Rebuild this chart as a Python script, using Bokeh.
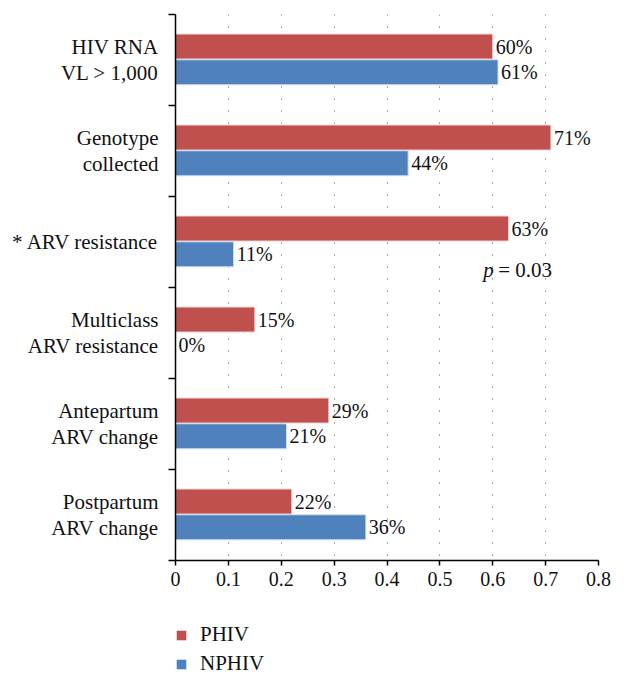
from bokeh.plotting import figure
from bokeh.layouts import column
from bokeh.models import (ColumnDataSource, Range1d, FixedTicker, Legend, LegendItem, Label)
from bokeh.core.properties import value
from bokeh.embed import file_html
from bokeh.resources import INLINE

categories = ["HIV RNA\nVL > 1,000", "Genotype\ncollected", "* ARV resistance",
              "Multiclass\nARV resistance", "Antepartum\nARV change", "Postpartum\nARV change"]
phiv = [0.60, 0.71, 0.63, 0.15, 0.29, 0.22]
nphiv = [0.61, 0.44, 0.11, 0.00, 0.21, 0.36]
x_ticks = [0, 0.1, 0.2, 0.3, 0.4, 0.5, 0.6, 0.7, 0.8]
x_tick_labels = ["0", "0.1", "0.2", "0.3", "0.4", "0.5", "0.6", "0.7", "0.8"]
series_names = ["PHIV", "NPHIV"]

RED = "#C0504D"
BLUE = "#4F81BD"
FONT = "Liberation Serif"
FS = "20px"
FS_CAT = "21px"

n = len(categories)
centers = [i + 0.5 for i in range(n)]

p = figure(frame_width=423, frame_height=546, output_backend="svg", toolbar_location=None,
           x_range=Range1d(0, 0.8), y_range=Range1d(n, 0),
           min_border_left=175, min_border_right=26, min_border_top=14, min_border_bottom=40)
p.outline_line_color = None
p.background_fill_color = "white"

src_r = ColumnDataSource(dict(y=[c - 0.148 for c in centers], v=phiv,
                              t=[f"{round(v*100)}%" for v in phiv]))
src_b = ColumnDataSource(dict(y=[c + 0.135 for c in centers], v=nphiv,
                              t=[f"{round(v*100)}%" for v in nphiv]))

p.hbar(y="y", right="v", left=0, height=0.275, source=src_r, fill_color=RED,
       line_color="#f2d6d5", line_width=1)
p.hbar(y="y", right="v", left=0, height=0.275, source=src_b, fill_color=BLUE,
       line_color="#d3e0f0", line_width=1)

for s in (src_r, src_b):
    p.text(x="v", y="y", text="t", source=s, x_offset=3, text_baseline="middle",
           text_align="left", text_font=value(FONT), text_font_size=FS, text_color="#111")

# x axis
p.xaxis.ticker = FixedTicker(ticks=x_ticks)
p.xaxis.major_label_overrides = {t: l for t, l in zip(x_ticks, x_tick_labels)}
p.xaxis.major_label_text_font = FONT
p.xaxis.major_label_text_font_size = FS
p.xaxis.major_label_text_color = "#111"
p.xaxis.major_tick_in = 0
p.xaxis.major_tick_out = 5
p.xaxis.minor_tick_line_color = None
p.xaxis.axis_line_width = 1.5
p.xaxis.major_tick_line_width = 1.5
p.xaxis.major_label_standoff = 6

# y axis
p.yaxis.ticker = FixedTicker(ticks=centers, minor_ticks=list(range(n + 1)))
p.yaxis.major_label_overrides = {c: l for c, l in zip(centers, categories)}
p.yaxis.major_label_text_font = FONT
p.yaxis.major_label_text_font_size = FS_CAT
p.yaxis.major_label_text_color = "#111"
p.yaxis.major_label_text_line_height = 1.05
p.yaxis.major_tick_in = 0
p.yaxis.major_tick_out = 0
p.yaxis.minor_tick_in = 0
p.yaxis.minor_tick_out = 7
p.yaxis.minor_tick_line_width = 1.5
p.yaxis.axis_line_width = 1.5
p.yaxis.major_label_standoff = 10

p.ygrid.grid_line_color = None
p.xgrid.ticker = FixedTicker(ticks=x_ticks[1:])
p.xgrid.grid_line_color = "#555"
p.xgrid.grid_line_dash = "1 11"
p.xgrid.grid_line_width = 1

p.add_layout(Label(x=0.582, y=2.81, text="p", text_font=FONT, text_font_style="italic",
                   text_font_size=FS_CAT, text_baseline="middle", text_color="#111"))
p.add_layout(Label(x=0.582, y=2.81, x_offset=15, text="= 0.03", text_font=FONT,
                   text_font_size=FS_CAT, text_baseline="middle", text_color="#111"))

# legend in a separate strip below the chart (its bars lie outside its visible range)
lg = figure(frame_width=423, frame_height=52, output_backend="svg", toolbar_location=None,
            x_range=Range1d(0, 0.8), y_range=Range1d(100, 101),
            min_border_left=175, min_border_right=26, min_border_top=22, min_border_bottom=0)
lg.axis.visible = False
lg.grid.visible = False
lg.outline_line_color = None
lr1 = lg.hbar(y="y", right="v", left=0, height=0.275, source=src_r, fill_color=RED, line_color=None)
lr2 = lg.hbar(y="y", right="v", left=0, height=0.275, source=src_b, fill_color=BLUE, line_color=None)

legend = Legend(items=[LegendItem(label=series_names[0], renderers=[lr1], index=0),
                       LegendItem(label=series_names[1], renderers=[lr2], index=0)],
                location="top_left", orientation="vertical")
legend.label_text_font = FONT
legend.label_text_font_size = FS_CAT
legend.label_text_color = "#111"
legend.glyph_width = 12
legend.glyph_height = 12
legend.border_line_color = None
legend.background_fill_alpha = 0
legend.padding = 0
legend.spacing = 4
legend.margin = 0
legend.label_standoff = 13
legend.label_height = 25
lg.add_layout(legend, "center")

layout = column(p, lg, spacing=0)
open("out.html", "w").write(file_html(layout, INLINE))
